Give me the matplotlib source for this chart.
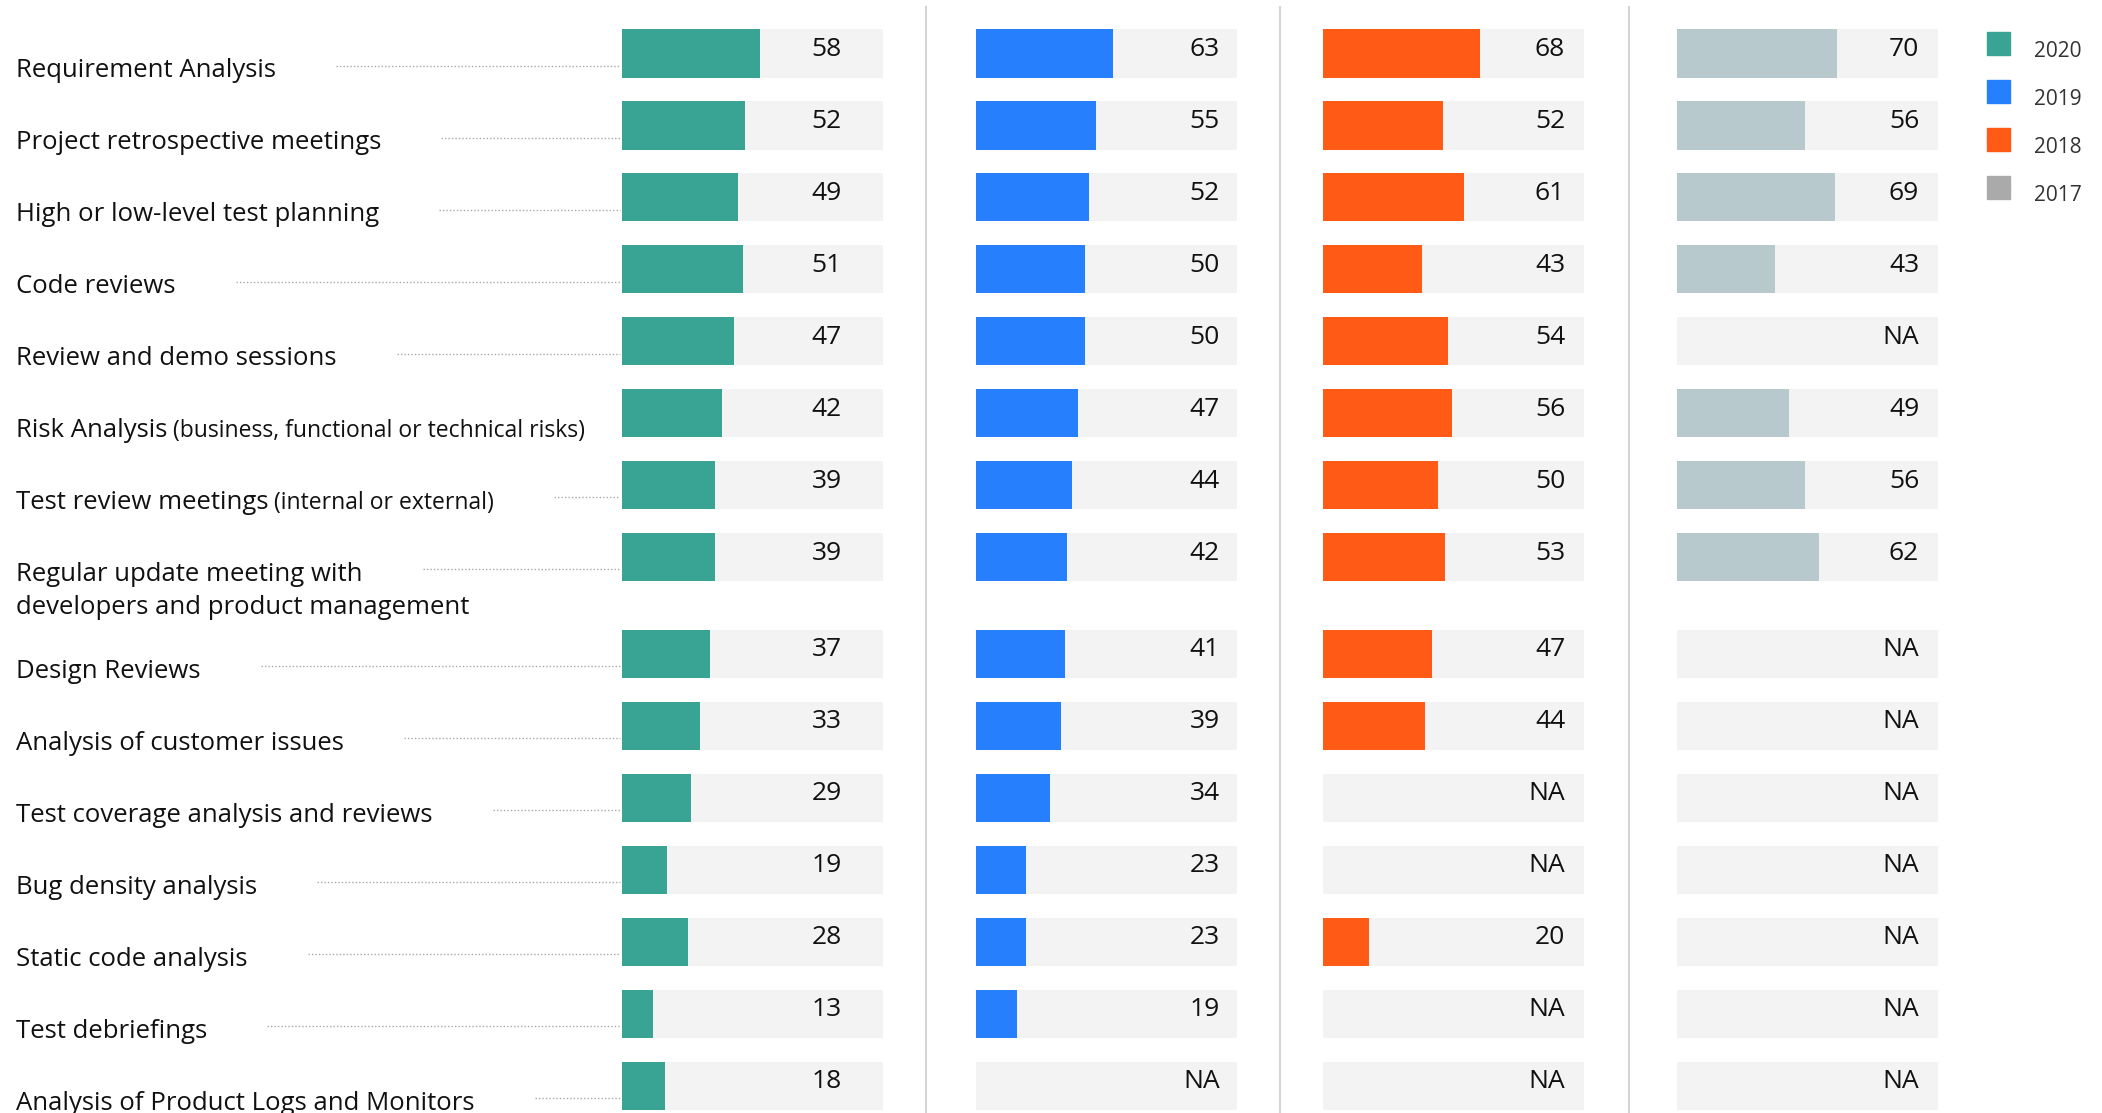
import numpy as np
import matplotlib
matplotlib.use('Agg')
import matplotlib.pyplot as plt
import matplotlib.transforms as mtransforms
from matplotlib.patches import Rectangle
from matplotlib.lines import Line2D

plt.rcParams.update({'font.family': ['Open Sans', 'DejaVu Sans'], 'figure.facecolor': 'white'})

NA = np.nan

# data
activities = ['Requirement Analysis', 'Project retrospective meetings', 'High or low-level test planning',
              'Code reviews', 'Review and demo sessions', 'Risk Analysis', 'Test review meetings',
              'Regular update meeting with\ndevelopers and product management', 'Design Reviews',
              'Analysis of customer issues', 'Test coverage analysis and reviews', 'Bug density analysis',
              'Static code analysis', 'Test debriefings', 'Analysis of Product Logs and Monitors']
notes = ['', '', '', '', '', '(business, functional or technical risks)', '(internal or external)',
         '', '', '', '', '', '', '', '']
years = ['2020', '2019', '2018', '2017']
v2020 = [58, 52, 49, 51, 47, 42, 39, 39, 37, 33, 29, 19, 28, 13, 18]
v2019 = [63, 55, 52, 50, 50, 47, 44, 42, 41, 39, 34, 23, 23, 19, NA]
v2018 = [68, 52, 61, 43, 54, 56, 50, 53, 47, 44, NA, NA, 20, NA, NA]
v2017 = [70, 56, 69, 43, NA, 49, 56, 62, NA, NA, NA, NA, NA, NA, NA]

bar_colors = ['#3aa494', '#267ffd', '#ff5a16', '#b8c9cd']
legend_colors = ['#3aa494', '#267ffd', '#ff5a16', '#aaaaaa']
BG = '#f3f3f3'

W, H = 2102, 1113
fig = plt.figure(figsize=(W / 100, H / 100), dpi=100)

# row positions, extra room after the two-line label
ypos = []
y = 0.0
for lab in activities:
    ypos.append(y)
    y += 1.34 if '\n' in lab else 1.0
ypos = np.array(ypos)
YLIM = (14.716, -0.743)
BH = 0.667

# bar columns
col_left = [622, 976, 1323, 1677]
col_w = 261
xmax = [110, 120, 113, 114]
num_x = [0.842, 0.935, 0.928, 0.928]
for vals, c, left, xm, nx in zip([v2020, v2019, v2018, v2017], bar_colors, col_left, xmax, num_x):
    ax = fig.add_axes([left / W, 0, col_w / W, 1])
    vals = np.array(vals, dtype=float)
    ax.barh(ypos, [xm] * len(ypos), height=BH, color=BG)
    ax.barh(ypos, np.nan_to_num(vals), height=BH, color=c)
    ax.set_xlim(0, xm)
    ax.set_ylim(*YLIM)
    ax.axis('off')
    tr = mtransforms.blended_transform_factory(ax.transAxes, ax.transData)
    for yy, v in zip(ypos, vals):
        s = 'NA' if np.isnan(v) else f'{v:.0f}'
        ax.text(nx, yy + 0.03, s, transform=tr, ha='right', va='baseline',
                fontsize=19, color='#111111')

# labels with dotted leaders
lax = fig.add_axes([0, 0, col_left[0] / W, 1])
lax.set_xlim(0, col_left[0])
lax.set_ylim(*YLIM)
lax.axis('off')
texts = []
for yy, lab, note in zip(ypos, activities, notes):
    lines = lab.split('\n')
    t = lax.text(16, yy + 0.333, lines[0], fontsize=18.5, va='baseline', color='#111111')
    for k, extra in enumerate(lines[1:], 1):
        lax.text(16, yy + 0.333 + 0.45 * k, extra, fontsize=18.5, va='baseline', color='#111111')
    texts.append((t, yy, note))

fig.canvas.draw()
inv = lax.transData.inverted()
for t, yy, note in texts:
    x1 = inv.transform(t.get_window_extent().get_points())[1, 0]
    if note:
        n = lax.text(x1 + 6, yy + 0.333, note, fontsize=16.5, va='baseline', color='#111111')
        fig.canvas.draw()
        x1 = inv.transform(n.get_window_extent().get_points())[1, 0]
    if x1 + 60 < col_left[0] - 2:
        lax.plot([x1 + 60, col_left[0] - 2], [yy + 0.167, yy + 0.167], ls=(0, (1, 1.5)),
                 lw=1.0, color='#a8a8a8')

# column separators
for sx in [926, 1280, 1629]:
    fig.add_artist(Line2D([sx / W, sx / W], [0, 1 - 7 / H], color='#d4d4d4', lw=1.5))

# legend
for i, (yr, c) in enumerate(zip(years, legend_colors)):
    top = 32 + 48 * i
    fig.add_artist(Rectangle((1987 / W, 1 - (top + 23) / H), 23 / W, 23 / H,
                             color=c, transform=fig.transFigure))
    fig.text(2034 / W, 1 - (top + 25) / H, yr, fontsize=15, color='#333333', va='baseline')

fig.savefig('out.png', dpi=100)
